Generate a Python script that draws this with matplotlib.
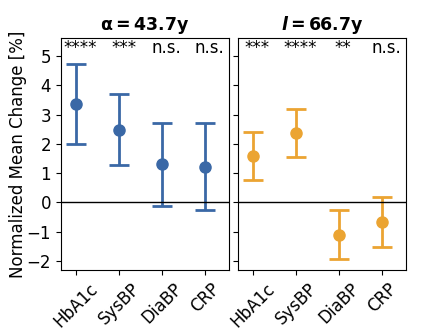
import numpy as np
import matplotlib.pyplot as plt

labels = ['HbA1c', 'SysBP', 'DiaBP', 'CRP']

alpha_mean = [3.35, 2.48, 1.32, 1.22]
alpha_low = [2.00, 1.27, -0.12, -0.27]
alpha_high = [4.72, 3.72, 2.73, 2.70]
alpha_sig = ['****', '***', 'n.s.', 'n.s.']

l_mean = [1.60, 2.38, -1.10, -0.67]
l_low = [0.78, 1.55, -1.93, -1.53]
l_high = [2.42, 3.18, -0.27, 0.20]
l_sig = ['***', '****', '**', 'n.s.']

panels = [
    (r'$\mathbf{\alpha=43.7y}$', alpha_mean, alpha_low, alpha_high, alpha_sig, '#3a68a6'),
    (r'$\mathbfit{l}\mathbf{=66.7y}$', l_mean, l_low, l_high, l_sig, '#eba432'),
]

fig, axes = plt.subplots(1, 2, figsize=(4.26, 3.31), dpi=100, sharey=True)
fig.subplots_adjust(left=0.143, right=0.953, top=0.885, bottom=0.185, wspace=0.05)

x = np.arange(len(labels))
for ax, (title, mean, low, high, sig, col) in zip(axes, panels):
    mean = np.array(mean)
    err = [mean - np.array(low), np.array(high) - mean]
    ax.errorbar(x, mean, yerr=err, fmt='o', color=col, ms=8, capsize=7,
                capthick=2, elinewidth=2)
    ax.axhline(0, color='black', lw=1)
    for i, s in enumerate(sig):
        ax.text(i + 0.1, 5.27, s, ha='center', va='center', fontsize=12)
    ax.set_title(title, fontsize=12.5)
    ax.set_xticks(x)
    ax.set_xticklabels(labels, rotation=45, fontsize=11.5)
    ax.set_xlim(-0.36, 3.56)
    ax.set_ylim(-2.3, 5.62)
    ax.set_yticks([-2, -1, 0, 1, 2, 3, 4, 5])
    ax.tick_params(labelsize=12)

axes[0].set_ylabel('Normalized Mean Change [%]', fontsize=12, labelpad=0)

fig.savefig('out.png', dpi=100)
